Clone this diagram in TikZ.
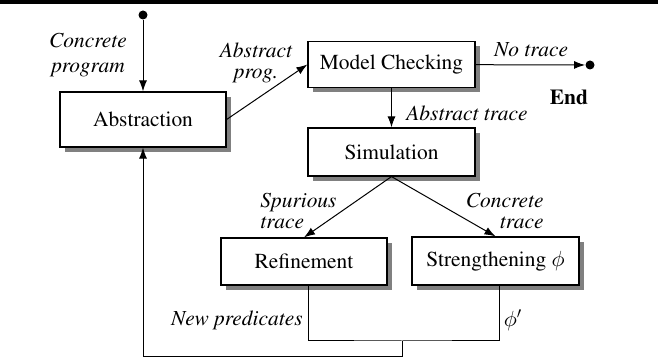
\documentclass[tikz,border=0pt]{standalone}
\usepackage[T1]{fontenc}
\usepackage{mathptmx}
\DeclareSymbolFont{cmletters}{OML}{cmm}{m}{it}
\DeclareMathSymbol{\cmphi}{\mathord}{cmletters}{"1E}
\usetikzlibrary{shadows,arrows.meta}

\tikzset{
  block/.style={draw=black,fill=white,line width=0.6pt,inner sep=0pt,
    font=\fontsize{10.7}{13}\selectfont,
    drop shadow={shadow xshift=2.5pt,shadow yshift=-2.5pt,fill=gray,opacity=1}},
  lbl/.style={inner sep=0pt,font=\fontsize{10.7}{10.5}\selectfont\itshape},
  blob/.style={circle,fill=black,inner sep=0pt,minimum size=4.5pt},
  flow/.style={line width=0.5pt,-{Latex[length=5.5pt,width=4pt]}}
}

\begin{document}
\begin{tikzpicture}[x=0.5pt,y=-0.5pt]
\useasboundingbox (0,0) rectangle (658,362);

% The rule across the top
\draw[line width=2pt] (0,2) -- (658,2);

% The boxes of the loop
\node[block,minimum width=83pt,minimum height=27.5pt] (abs) at (143,119.5) {Abstraction};
\node[block,minimum width=83.5pt,minimum height=23pt] (mc) at (391.5,64.5) {Model Checking};
\node[block,minimum width=83.5pt,minimum height=24pt] (sim) at (391.5,152) {Simulation};
\node[block,minimum width=83pt,minimum height=23.5pt] (ref) at (304,261.5) {Refinement};
\node[block,minimum width=83.5pt,minimum height=24pt] (str) at (495.5,261) {Strengthening $\cmphi$};

% Start and end points
\node[blob] (start) at (143,15) {};
\node[blob] (finish) at (590,65) {};
\node[inner sep=0pt,font=\fontsize{10.7}{13}\selectfont\bfseries] (endlbl) at (569,97) {End};

% The arrows between the boxes
\draw[flow] (start) -- (abs);
\draw[flow] (abs.east) -- (mc.west);
\draw[flow] (mc) -- (finish);
\draw[flow] (mc) -- (sim);
\draw[flow] (sim.south) -- (ref.north);
\draw[flow] (sim.south) -- (str.north);

% The way back to the abstraction
\coordinate (merge) at (402,341);
\coordinate (bend) at (402,357);
\draw[line width=0.5pt] ([xshift=2pt]ref.south) |- (merge) -| ([xshift=2pt]str.south);
\draw[flow] (merge) -- (bend) -| (abs.south);

% The labels of the arrows
\node[lbl,align=center,font=\fontsize{10.7}{12.5}\selectfont\itshape] (lconc) at (88,55) {Concrete\\program};
\node[lbl,align=center] (lprog) at (256,63) {Abstract\\prog.};
\node[lbl] (lnone) at (531,50) {No trace};
\node[lbl,anchor=west] (latr) at (406,113) {Abstract trace};
\node[lbl,align=left,anchor=west] (lspur) at (260,211) {Spurious\\trace};
\node[lbl,align=right,anchor=east] (lctr) at (544,211) {Concrete\\trace};
\node[lbl,anchor=east] (lpred) at (303,320) {New predicates};
\node[inner sep=0pt,font=\fontsize{10.7}{13}\selectfont] (lphi) at (513,320) {$\cmphi'$};

\end{tikzpicture}
\end{document}
